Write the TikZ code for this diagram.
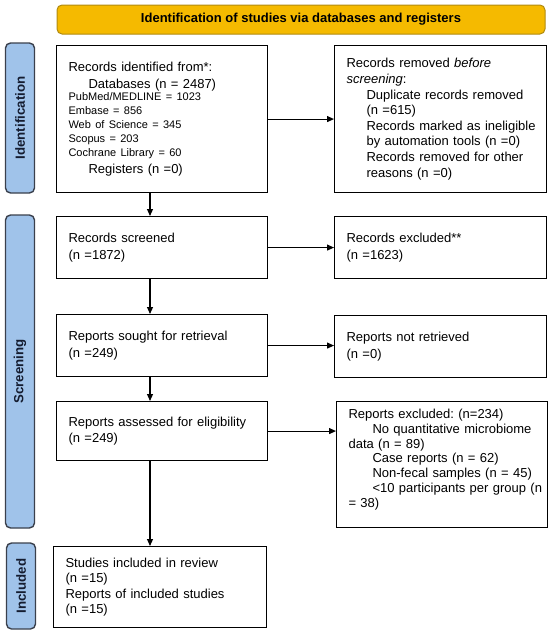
\documentclass[tikz,border=0pt]{standalone}
\usepackage{fontspec}
\setmainfont{Liberation Sans}
\usetikzlibrary{arrows.meta}
\setlength{\parindent}{0pt}
\frenchspacing
\definecolor{bannerfill}{HTML}{F5BA00}
\definecolor{bannerline}{HTML}{B08A10}
\definecolor{sidefill}{HTML}{A0C3EA}
\definecolor{sideline}{HTML}{3A404C}
\definecolor{sidetext}{HTML}{141C30}
\newcommand\bigfnt[1]{\fontsize{13}{#1}\selectfont}
\newcommand\smlfnt[1]{\fontsize{11}{#1}\selectfont}
\newcommand\indA{\hspace*{20pt}}
\newcommand\indB{\hspace*{24pt}}
\tikzset{
  box/.style={draw=black, line width=1.1pt, fill=white, anchor=north west,
    inner xsep=12pt, inner ysep=0pt, align=left},
  banner/.style={draw=bannerline, line width=1pt, fill=bannerfill, rounded corners=5pt,
    font=\bfseries\fontsize{13}{15}\selectfont, inner sep=0pt},
  side/.style={draw=sideline, line width=1.4pt, fill=sidefill, rounded corners=5pt,
    text=sidetext, font=\bfseries\fontsize{13.3}{15}\selectfont, inner sep=0pt, rotate=90},
  arr/.style={-{Triangle[length=7pt,width=6pt]}, line width=1.1pt}
}
\begin{document}
\begin{tikzpicture}[x=1pt,y=-1pt]
\useasboundingbox (0,0) rectangle (550,635);

\node[banner, minimum width=488pt, minimum height=29pt] (ban) at (301,19.5)
  {Identification of studies via databases and registers};

\node[side, minimum width=150pt, minimum height=29pt] (sid) at (20,118) {Identification};
\node[side, minimum width=313pt, minimum height=29pt] (scr) at (20,371.5) {Screening};
\node[side, minimum width=86pt, minimum height=29pt] (inc) at (21,586) {Included};

\node[box, text width=187pt, minimum width=211pt, minimum height=147pt, font=\bigfnt{16.3}] (b1) at (56,45)
  {Records identified from*:\\
   \indA Databases (n = 2487)\\
   \smlfnt{12.8}PubMed/MEDLINE = 1023\\
   \smlfnt{14}Embase = 856\\
   Web of Science = 345\\
   Scopus = 203\\
   Cochrane Library = 60\\
   \bigfnt{17.2}\indA Registers (n =0)};

\node[box, text width=188pt, minimum width=212pt, minimum height=147pt, font=\bigfnt{15.6}] (b2) at (334,45)
  {Records removed \textit{before}\\
   \textit{screening}:\\
   \indA Duplicate records removed\\
   \indA (n =615)\\
   \indA\mbox{Records marked as ineligible}\\
   \indA by automation tools (n =0)\\
   \indA Records removed for other\\
   \indA reasons (n =0)};

\node[box, text width=187pt, minimum width=211pt, minimum height=62pt, font=\bigfnt{16.5}] (b3) at (56,216)
  {Records screened\\(n =1872)};
\node[box, text width=188pt, minimum width=212pt, minimum height=62pt, font=\bigfnt{16.5}] (b4) at (334,216)
  {Records excluded**\\(n =1623)};

\node[box, text width=187pt, minimum width=211pt, minimum height=62pt, font=\bigfnt{17}] (b5) at (56,314)
  {Reports sought for retrieval\\(n =249)};
\node[box, text width=188pt, minimum width=212pt, minimum height=62pt, font=\bigfnt{17}] (b6) at (334,315)
  {Reports not retrieved\\(n =0)};

\node[box, text width=187pt, minimum width=211pt, minimum height=59pt, font=\bigfnt{16}] (b7) at (56,401)
  {Reports assessed for eligibility\\(n =249)};
\node[box, text width=187pt, minimum width=211pt, minimum height=126pt, font=\bigfnt{14.7}] (b8) at (336,401)
  {Reports excluded: (n=234)\\
   \indB No quantitative microbiome\\
   data (n = 89)\\
   \indB Case reports (n = 62)\\
   \indB Non-fecal samples (n = 45)\\
   \indB\mbox{<10 participants per group (n}\\
   = 38)\\[-2pt]\mbox{}};

\node[box, text width=189pt, minimum width=213pt, minimum height=81pt, font=\bigfnt{15.3}] (b9) at (53,546)
  {Studies included in review\\(n =15)\\Reports of included studies\\(n =15)};

\coordinate (ax) at (150,0);

\draw[arr] (b1.east) -- (b2.west |- b1.east);
\draw[arr] (b3.east) -- (b4.west |- b3.east);
\draw[arr] (b5.east) -- (b6.west |- b5.east);
\draw[arr] (b7.east) -- (b8.west |- b7.east);

\draw[arr] (b1.south -| ax) -- (b3.north -| ax);
\draw[arr] (b3.south -| ax) -- (b5.north -| ax);
\draw[arr] (b5.south -| ax) -- (b7.north -| ax);
\draw[arr] (b7.south -| ax) -- (b9.north -| ax);
\end{tikzpicture}
\end{document}
